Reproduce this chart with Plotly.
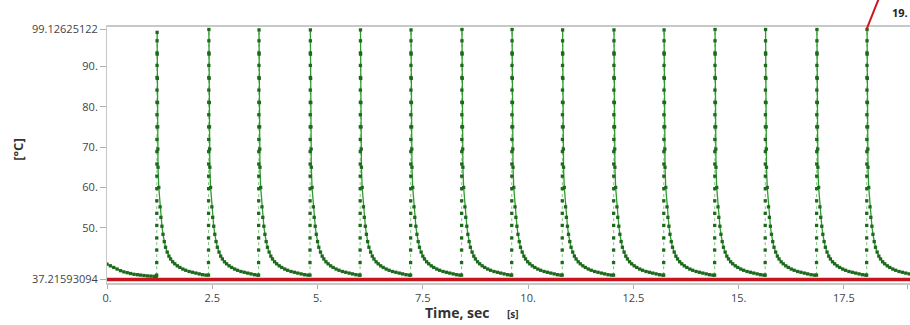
import plotly.graph_objects as go

# ---- data ----
pulse_times = [1.18, 2.41, 3.60, 4.82, 6.01, 7.21, 8.42, 9.61, 10.81, 12.03, 13.22, 14.43, 15.63, 16.85, 18.04]
peak_temps = [98.4, 99.1, 99.0, 99.0, 99.0, 99.0, 99.1, 99.1, 99.0, 99.0, 99.0, 99.1, 99.1, 99.1, 99.1]

# samples on the rise (offset in s, temperature)
rise_dt = [0.0, 0.0005, 0.001, 0.0015, 0.002, 0.0025, 0.003, 0.0035, 0.004, 0.0045, 0.005,
           0.0055, 0.006, 0.0065, 0.007, 0.0075, 0.008, 0.0085, 0.009, 0.0095]
rise_T = [38.3, 41.4, 44.5, 47.5, 50.6, 53.6, 56.7, 59.7, 62.8, 65.8, 68.9,
          71.9, 75.0, 78.0, 81.1, 84.1, 87.2, 90.2, 93.3, 96.3]

# samples on the decay after each peak
decay_dt = [0.012, 0.016, 0.020, 0.024, 0.028, 0.032, 0.05, 0.08, 0.10, 0.125, 0.15, 0.18, 0.21,
            0.25, 0.29, 0.33, 0.38, 0.43, 0.49, 0.55, 0.62, 0.69, 0.77, 0.85, 0.93, 1.01, 1.09, 1.17]
decay_T = [93.0, 87.0, 81.0, 75.0, 69.5, 65.0, 60.0, 55.2, 52.6, 50.4, 48.4, 46.6, 45.2,
           44.0, 43.0, 42.3, 41.6, 41.1, 40.6, 40.2, 39.8, 39.5, 39.2, 39.0, 38.8, 38.6, 38.4, 38.3]

# initial cooling before first pulse
init_t = [0.0, 0.08, 0.16, 0.24, 0.32, 0.40, 0.48, 0.56, 0.64, 0.72, 0.80, 0.88, 0.96, 1.04, 1.12, 1.17]
init_T = [41.0, 40.6, 40.2, 39.8, 39.4, 39.1, 38.9, 38.7, 38.5, 38.4, 38.3, 38.2, 38.1, 38.05, 38.0, 38.0]

baseline_T = 37.21593094
x_range = [0.0, 19.07]
y_range = [36.35, 99.72]

xtick_vals = [0, 2.5, 5, 7.5, 10, 12.5, 15, 17.5, 19]
xtick_text = ["0.", "2.5", "5.", "7.5", "10.", "12.5", "15.", "17.5", "19."]
ytick_vals = [37.21593094, 50, 60, 70, 80, 90, 99.12625122]
ytick_text = ["37.21593094", "50.", "60.", "70.", "80.", "90.", "99.12625122"]

# ---- build traces ----
mk_x, mk_y = list(init_t), list(init_T)
dec_x, dec_y = list(init_t), list(init_T)
rise_x, rise_y = [], []
dec_x.append(None); dec_y.append(None)
for t0, pk in zip(pulse_times, peak_temps):
    rx = [t0 + d for d in rise_dt] + [t0 + 0.01]
    ry = list(rise_T) + [pk]
    rise_x += rx + [None]
    rise_y += ry + [None]
    dx = [t0 + 0.01] + [t0 + d for d in decay_dt]
    dy = [pk] + list(decay_T)
    dec_x += dx + [None]
    dec_y += dy + [None]
    mk_x += rx + dx[1:]
    mk_y += ry + dy[1:]

fig = go.Figure()
fig.add_trace(go.Scatter(x=x_range, y=[baseline_T, baseline_T], mode="lines",
                         line=dict(color="#c8141e", width=3.5), hoverinfo="skip"))
fig.add_trace(go.Scatter(x=rise_x, y=rise_y, mode="lines",
                         line=dict(color="#7cc47c", width=1, dash="dot"), hoverinfo="skip"))
fig.add_trace(go.Scatter(x=dec_x, y=dec_y, mode="lines",
                         line=dict(color="#2f9a2f", width=1.3), hoverinfo="skip"))
fig.add_trace(go.Scatter(x=mk_x, y=mk_y, mode="markers",
                         marker=dict(symbol="square", size=3.3, color="#1d6a1d"), hoverinfo="skip"))

font_fam = "Open Sans, DejaVu Sans, sans-serif"
fig.update_layout(
    width=910, height=325,
    margin=dict(l=107, r=0, t=27, b=42),
    paper_bgcolor="white", plot_bgcolor="white",
    showlegend=False,
    font=dict(family=font_fam, size=11, color="#444"),
    xaxis=dict(range=x_range, tickvals=xtick_vals, ticktext=xtick_text,
               showgrid=False, zeroline=False, showline=True, mirror=True,
               linecolor="#c8c8c8", linewidth=1.5, ticks="outside", ticklen=4,
               tickcolor="#b0b0b0", tickfont=dict(size=11, color="#444")),
    yaxis=dict(range=y_range, tickvals=ytick_vals, ticktext=ytick_text,
               showgrid=False, zeroline=False, showline=True,
               linecolor="#c8c8c8", linewidth=1, ticks="outside", ticklen=6,
               tickcolor="#b0b0b0", tickfont=dict(size=11, color="#444")),
    annotations=[
        dict(text="<b>Time, sec</b>", xref="paper", yref="paper", x=0.436, y=-0.117,
             showarrow=False, xanchor="center", yanchor="middle",
             font=dict(size=14, color="#333", family=font_fam)),
        dict(text="<b>[s]</b>", xref="paper", yref="paper", x=0.506, y=-0.158,
             showarrow=False, xanchor="center", yanchor="bottom",
             font=dict(size=10, color="#333", family=font_fam)),
        dict(text="<b>[°C]</b>", xref="paper", yref="paper", x=-0.111, y=0.52,
             showarrow=False, xanchor="center", yanchor="middle", textangle=-90,
             font=dict(size=13, color="#333", family=font_fam)),
        dict(text="<b>19.</b>", xref="paper", yref="paper", x=0.9875, y=1.056,
             showarrow=False, xanchor="center", yanchor="middle",
             font=dict(size=11, color="#222", family=font_fam)),
    ],
    shapes=[
        dict(type="line", xref="paper", yref="paper", x0=0.946, y0=0.992, x1=0.961, y1=1.11,
             line=dict(color="#d0141e", width=2)),
    ],
)

fig.write_html("out.html")
